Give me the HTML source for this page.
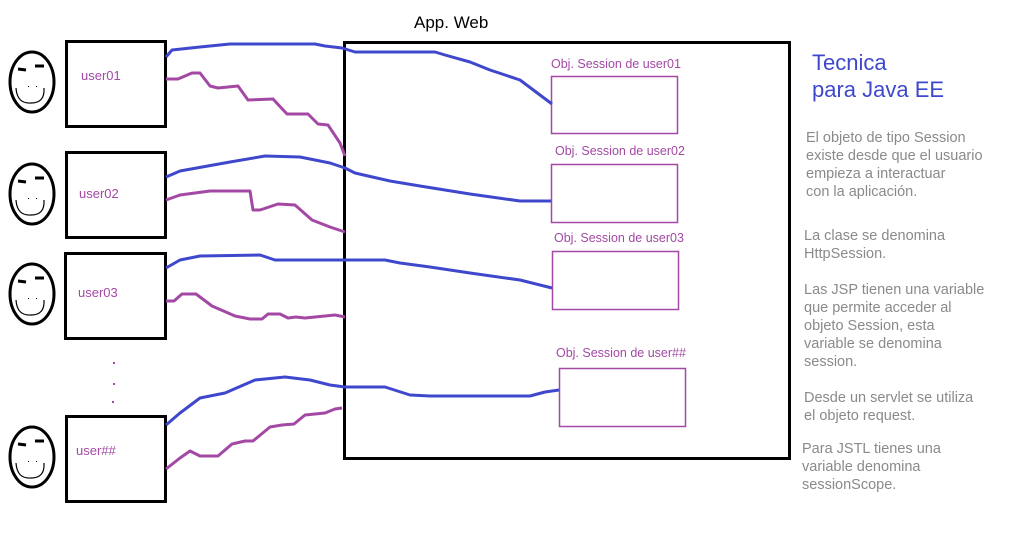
<!DOCTYPE html>
<html><head><meta charset="utf-8"><style>
html,body{margin:0;padding:0;background:#fff;}
svg{display:block;}
text{font-family:"Liberation Sans",sans-serif;}
</style></head><body>
<svg width="1010" height="553" viewBox="0 0 1010 553" xmlns="http://www.w3.org/2000/svg">
<rect width="1010" height="553" fill="#fff"/>
<defs>
<g id="face">
<ellipse cx="32" cy="82" rx="22" ry="30" stroke-width="3" fill="none" stroke="#000"/>
<path d="M18 69 L26 70" stroke-width="3" stroke="#000"/><path d="M35 66 L44 66" stroke-width="3" stroke="#000"/>
<path d="M16 88 Q17 104 31 103 Q45 103 44 88" stroke-width="1.2" fill="none" stroke="#000"/>
<rect x="28" y="86" width="1" height="1" fill="#000"/><rect x="36" y="86" width="1" height="1" fill="#000"/>
</g>
</defs>
<use href="#face"/>
<use href="#face" transform="translate(0,112)"/>
<use href="#face" transform="translate(0,212)"/>
<use href="#face" transform="translate(0,375)"/>
<!-- user boxes -->
<g fill="none" stroke="#000" stroke-width="3">
<rect x="66.5" y="41.5" width="99" height="85"/>
<rect x="66.5" y="152.5" width="99" height="85"/>
<rect x="65.5" y="253.5" width="100" height="85"/>
<rect x="66.5" y="416.5" width="99" height="85"/>
<rect x="344.5" y="42.5" width="445" height="416"/>
</g>
<g font-size="13" fill="#a349a4">
<text x="81" y="80">user01</text>
<text x="79" y="198">user02</text>
<text x="78" y="297">user03</text>
<text x="76" y="455">user##</text>
</g>
<g fill="#a349a4"><rect x="113" y="362" width="2" height="2"/><rect x="113" y="383" width="2" height="2"/><rect x="112" y="401" width="2" height="2"/></g>
<text x="414" y="28" font-size="17" fill="#000">App. Web</text>
<!-- session boxes -->
<g fill="none" stroke="#a349a4" stroke-width="1.5">
<rect x="551.5" y="76.5" width="126" height="57"/>
<rect x="551.5" y="164.5" width="126" height="58"/>
<rect x="552.5" y="251.5" width="126" height="58"/>
<rect x="559.5" y="368.5" width="126" height="58"/>
</g>
<g font-size="12.5" fill="#a349a4">
<text x="551" y="68">Obj. Session de user01</text>
<text x="555" y="155">Obj. Session de user02</text>
<text x="554" y="242">Obj. Session de user03</text>
<text x="556" y="357">Obj. Session de user##</text>
</g>
<!-- blue lines -->
<g fill="none" stroke="#3f48cc" stroke-width="3" stroke-linejoin="round">
<polyline points="166,57 172,50 200,47 230,44 315,44 325,46 342,48 355,52 435,52 445,55 470,62 490,70 520,80 540,95 552,104"/>
<polyline points="166,177 180,171 230,162 265,156 300,157 330,163 345,168 355,173 390,181 420,186 470,194 520,201 551,201"/>
<polyline points="166,268 180,260 200,256 260,255 275,260 385,260 400,263 430,267 470,273 520,280 552,288"/>
<polyline points="166,425 180,413 200,398 225,393 255,380 285,377 310,380 330,385 345,387 385,387 410,395 430,396 530,396 545,392 559,390"/>
</g>
<!-- purple lines -->
<g fill="none" stroke="#a349a4" stroke-width="3" stroke-linejoin="round">
<polyline points="166,79 178,79 192,73 200,73 210,86 218,88 238,86 248,100 273,99 287,114 308,114 318,124 328,125 340,143 345,156"/>
<polyline points="166,200 180,195 210,191 250,191 253,210 260,210 278,204 295,205 312,220 330,227 345,232"/>
<polyline points="166,301 174,301 182,294 196,294 212,306 235,316 250,319 262,319 268,314 280,314 288,318 296,317 305,318 335,315 345,317"/>
<polyline points="166,469 180,458 190,451 200,456 218,456 232,444 245,441 253,441 270,427 282,425 294,424 305,415 325,413 335,409 342,408"/>
</g>
<!-- right side text -->
<g font-size="22" fill="#3f48cc">
<text x="812" y="70">Tecnica</text>
<text x="812" y="97">para Java EE</text>
</g>
<g font-size="14.5" fill="#8a8a8a">
<text x="806" y="142">El objeto de tipo Session</text>
<text x="806" y="160">existe desde que el usuario</text>
<text x="806" y="178">empieza a interactuar</text>
<text x="806" y="196">con la aplicación.</text>
<text x="804" y="240">La clase se denomina</text>
<text x="804" y="258">HttpSession.</text>
<text x="804" y="294">Las JSP tienen una variable</text>
<text x="804" y="312">que permite acceder al</text>
<text x="804" y="330">objeto Session, esta</text>
<text x="804" y="348">variable se denomina</text>
<text x="804" y="366">session.</text>
<text x="804" y="402">Desde un servlet se utiliza</text>
<text x="804" y="420">el objeto request.</text>
<text x="802" y="453">Para JSTL tienes una</text>
<text x="802" y="471">variable denomina</text>
<text x="802" y="489">sessionScope.</text>
</g>
</svg>
</body></html>
